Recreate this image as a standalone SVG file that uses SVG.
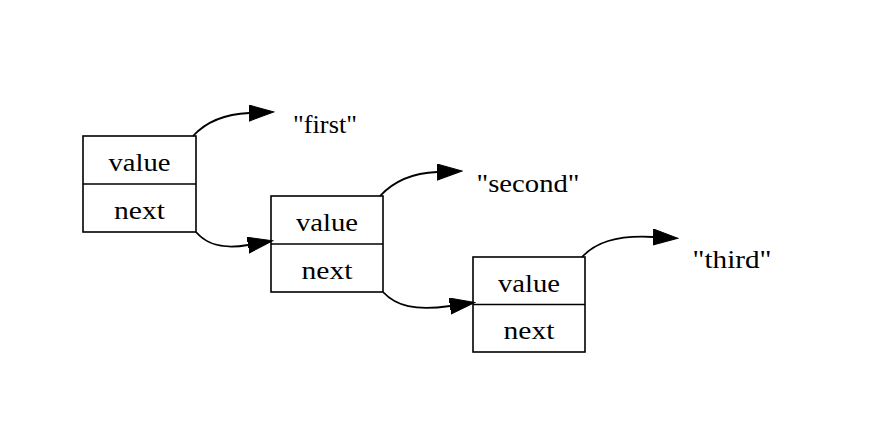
<svg xmlns="http://www.w3.org/2000/svg" width="876" height="436" viewBox="0 0 876 436">
<style>
.box{fill:none;stroke:#000;stroke-width:1.6}
.edge{fill:none;stroke:#000;stroke-width:1.8}
text{font-family:"Liberation Serif","Times New Roman",serif;font-size:26px;fill:#000;text-anchor:middle}
</style>
<defs>
<marker id="ah" markerUnits="userSpaceOnUse" markerWidth="26" markerHeight="18" refX="0" refY="8" orient="auto" viewBox="0 0 26 18">
<path d="M0,0 L25,8 L0,16 z" fill="#000" stroke="#000" stroke-width="1"/>
</marker>
</defs>
<rect width="876" height="436" fill="#fff"/>
<g id="connectors">
<path class="edge" d="M193,136 C206,122 225,114 249,113" marker-end="url(#ah)"/>
<path class="edge" d="M196,232 C208,246 225,249 248,245" marker-end="url(#ah)"/>
<path class="edge" d="M380,196 C393,182 412,173 437,172" marker-end="url(#ah)"/>
<path class="edge" d="M383,292 C396,306 415,311 450,306" marker-end="url(#ah)"/>
<path class="edge" d="M582,257 C595,243 615,235 653,237" marker-end="url(#ah)"/>
</g>
<g id="node1">
<rect class="box" x="83" y="136" width="113" height="96"/>
<line class="box" x1="83" y1="184" x2="196" y2="184"/>
<text x="139.5" y="171" textLength="62" lengthAdjust="spacingAndGlyphs">value</text>
<text x="139.5" y="219" textLength="51" lengthAdjust="spacingAndGlyphs">next</text>
</g>
<g id="node2">
<rect class="box" x="271" y="196" width="112" height="96"/>
<line class="box" x1="271" y1="244" x2="383" y2="244"/>
<text x="327" y="231" textLength="62" lengthAdjust="spacingAndGlyphs">value</text>
<text x="327" y="279" textLength="51" lengthAdjust="spacingAndGlyphs">next</text>
</g>
<g id="node3">
<rect class="box" x="473" y="257" width="112" height="95"/>
<line class="box" x1="473" y1="304.5" x2="585" y2="304.5"/>
<text x="529" y="292" textLength="62" lengthAdjust="spacingAndGlyphs">value</text>
<text x="529" y="339" textLength="51" lengthAdjust="spacingAndGlyphs">next</text>
</g>
<g id="first"><text x="325" y="133" textLength="64" lengthAdjust="spacingAndGlyphs">"first"</text></g>
<g id="second"><text x="528" y="192" textLength="103" lengthAdjust="spacingAndGlyphs">"second"</text></g>
<g id="third"><text x="732" y="268" textLength="79" lengthAdjust="spacingAndGlyphs">"third"</text></g>
</svg>
